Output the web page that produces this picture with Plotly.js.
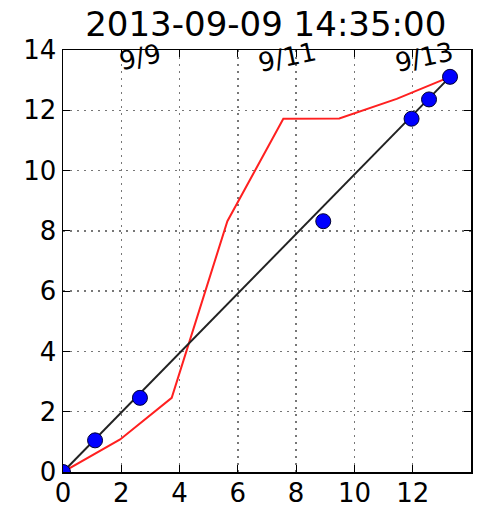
<!DOCTYPE html>
<html>
<head>
<meta charset="utf-8">
<script src="https://cdn.plot.ly/plotly-3.0.1.min.js"></script>
<style>html,body{margin:0;padding:0;background:#fff;}#chart{width:485px;height:505px;}</style>
</head>
<body>
<div id="chart"></div>
<script>
const titleText = "2013-09-09 14:35:00";
const pointX = [0, 1.10, 2.64, 8.93, 11.96, 12.56, 13.28];
const pointY = [0, 1.05, 2.46, 8.32, 11.72, 12.36, 13.11];
const fitX = [0, 13.28];
const fitY = [0, 13.11];
const redX = [0, 1.96, 3.73, 5.64, 7.56, 9.48, 11.45, 13.28];
const redY = [0, 1.08, 2.46, 8.32, 11.72, 11.73, 12.38, 13.11];
const tickVals = [0, 2, 4, 6, 8, 10, 12, 14];
const tickText = ["0", "2", "4", "6", "8", "10", "12", "14"];
const topTickVals = [2.65, 7.7, 12.4];
const topTickText = ["9/9", "9/11", "9/13"];

const font = "DejaVu Sans, sans-serif";
const traces = [
  {x: redX, y: redY, mode: "lines", line: {color: "#ff2020", width: 2}, hoverinfo: "skip", cliponaxis: true},
  {x: fitX, y: fitY, mode: "lines", line: {color: "#222222", width: 2}, hoverinfo: "skip", cliponaxis: true},
  {x: pointX, y: pointY, mode: "markers", marker: {color: "#0000ff", size: 15, line: {color: "#000033", width: 1}}, hoverinfo: "skip", cliponaxis: true}
];

const axisCommon = {
  range: [0, 14], tickvals: tickVals, ticktext: tickText,
  showline: true, linecolor: "#000", linewidth: 1.5, mirror: "ticks",
  ticks: "inside", ticklen: 7, tickwidth: 1, tickcolor: "#000",
  showgrid: true, gridcolor: "#777", gridwidth: 1.5, griddash: "2px,5px",
  zeroline: false, tickfont: {family: font, size: 26, color: "#000"}, fixedrange: true
};

const annotations = topTickVals.map((v, i) => ({
  x: v, xref: "x", y: 0.984, yref: "paper", text: topTickText[i], showarrow: false,
  textangle: -12, xanchor: "center", yanchor: "middle",
  font: {family: font, size: 26, color: "#000"}
}));

const layout = {
  width: 485, height: 505,
  margin: {l: 63, r: 14, t: 50, b: 33, pad: 0},
  paper_bgcolor: "#fff", plot_bgcolor: "#fff",
  showlegend: false,
  title: {text: titleText, font: {family: font, size: 34, color: "#000"}, x: 0.548, xanchor: "center", y: 0.953, yanchor: "middle"},
  xaxis: Object.assign({}, axisCommon, {ticklabelstandoff: -3}),
  yaxis: Object.assign({}, axisCommon),
  annotations: annotations
};

Plotly.newPlot("chart", traces, layout, {staticPlot: true, displayModeBar: false});
</script>
</body>
</html>
